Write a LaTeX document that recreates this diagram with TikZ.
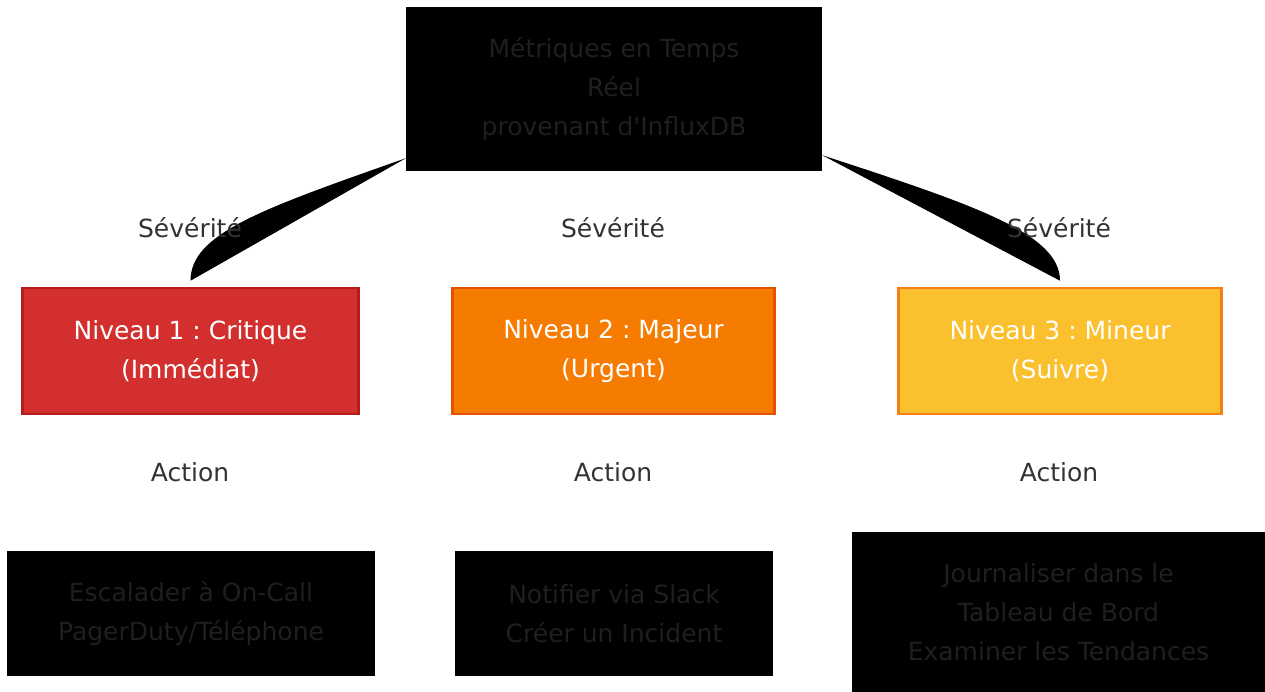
\documentclass[tikz,border=0pt]{standalone}
\usepackage{fontspec}
\setmainfont{DejaVu Sans}
\usepackage{tikz}
\usetikzlibrary{arrows.meta, positioning, calc}

\definecolor{boxtext}{HTML}{1F1F23}
\definecolor{labeltext}{HTML}{333333}
\definecolor{critfill}{HTML}{D32F2F}
\definecolor{critline}{HTML}{B71C1C}
\definecolor{majfill}{HTML}{F57C00}
\definecolor{majline}{HTML}{E65100}
\definecolor{minfill}{HTML}{FBC02D}
\definecolor{minline}{HTML}{F57F17}
\frenchspacing

\begin{document}
\begin{tikzpicture}[x=1pt, y=-1pt,
    every node/.style={font=\fontsize{25}{39}\selectfont, align=center, inner sep=0pt},
    darkbox/.style={fill=black, text=boxtext},
    levelbox/.style={line width=2.5pt, text=white, minimum height=126pt},
    edgelabel/.style={text=labeltext},
    edgefill/.style={fill=black}]
    \useasboundingbox (0,0) rectangle (1265,692);

    % Source metrics
    \node[darkbox, minimum width=416pt, minimum height=164pt] (metrics) at (614,89)
        {Métriques en Temps\\Réel\\provenant d\textquotesingle InfluxDB};

    % Severity levels
    \node[levelbox, fill=critfill, draw=critline, minimum width=336pt] (lvl1) at (190.5,351)
        {Niveau 1 : Critique\\(Immédiat)};
    \node[levelbox, fill=majfill, draw=majline, minimum width=322pt] (lvl2) at (613.5,351)
        {Niveau 2 : Majeur\\(Urgent)};
    \node[levelbox, fill=minfill, draw=minline, minimum width=323pt] (lvl3) at (1060,351)
        {Niveau 3 : Mineur\\(Suivre)};

    % Actions
    \node[darkbox, minimum width=368pt, minimum height=125pt] (act1) at (191,613.5)
        {Escalader à On-Call\\PagerDuty/Téléphone};
    \node[darkbox, minimum width=318pt, minimum height=125pt] (act2) at (614,613.5)
        {Notifier via Slack\\Créer un Incident};
    \node[darkbox, minimum width=413pt, minimum height=160pt] (act3) at (1058.5,612)
        {Journaliser dans le\\Tableau de Bord\\Examiner les Tendances};

    % Edges (filled curves)
    \fill[edgefill] ([yshift=13pt]metrics.south west) .. controls +(-145,51) and +(0,-47) .. ([yshift=6pt]lvl1.north);
    \fill[edgefill] ([yshift=16pt]metrics.south east) .. controls +(153,50) and +(0,-47) .. ([yshift=6pt]lvl3.north);

    % Edge labels
    \node[edgelabel] (sev1) at (190,228) {Sévérité};
    \node[edgelabel] (sev2) at (613,228) {Sévérité};
    \node[edgelabel] (sev3) at (1059,228) {Sévérité};
    \node[edgelabel] (do1) at (190,472) {Action};
    \node[edgelabel] (do2) at (613,472) {Action};
    \node[edgelabel] (do3) at (1059,472) {Action};
\end{tikzpicture}
\end{document}
